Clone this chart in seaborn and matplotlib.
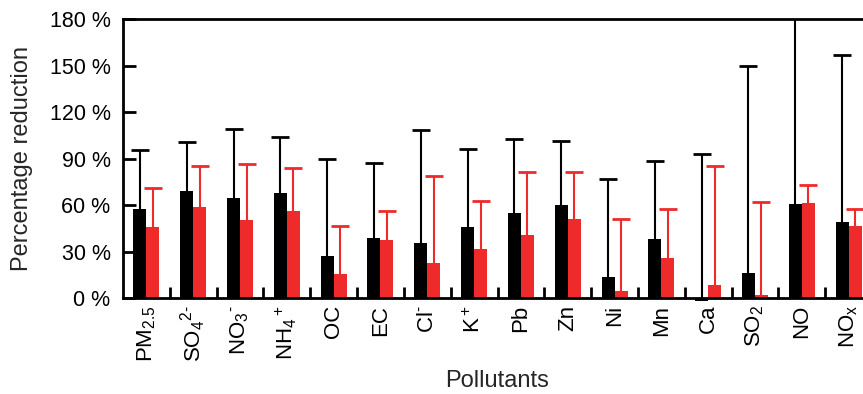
import numpy as np
import pandas as pd
import matplotlib
matplotlib.use("Agg")
import matplotlib.pyplot as plt
import seaborn as sns

categories = [r"PM$_{2.5}$", r"SO$_4$$^{2\text{-}}$", r"NO$_3$$^{\text{-}}$", r"NH$_4$$^+$", "OC", "EC",
              r"Cl$^{\text{-}}$", r"K$^+$", "Pb", "Zn", "Ni", "Mn", "Ca", r"SO$_2$", "NO", r"NO$_x$"]
series = ["A", "B"]
black_mean = [57.7, 69.0, 64.3, 67.9, 27.2, 38.6, 35.4, 45.8, 54.6, 60.2, 13.5, 37.9, -2.2, 16.1, 60.4, 49.3]
black_err = [38.1, 31.7, 45.0, 35.8, 62.2, 48.8, 73.2, 50.6, 48.1, 41.4, 63.2, 50.4, 94.8, 133.5, 150.0, 107.6]
red_mean = [45.6, 58.7, 50.3, 55.9, 15.6, 37.1, 22.3, 31.5, 40.5, 50.8, 4.5, 25.9, 8.4, 1.9, 61.5, 46.3]
red_err = [25.6, 26.6, 36.1, 28.1, 30.9, 19.0, 56.6, 31.3, 40.9, 30.2, 46.3, 31.3, 76.5, 59.8, 11.3, 11.4]
yticks = [0, 30, 60, 90, 120, 150, 180]

colors = ["#000000", "#EE2A2A"]

sns.set_theme(style="white")
plt.rcParams["font.family"] = ["Liberation Sans", "DejaVu Sans"]
plt.rcParams["mathtext.fontset"] = "custom"
plt.rcParams["mathtext.rm"] = "Liberation Sans"
plt.rcParams["mathtext.it"] = "Liberation Sans"
plt.rcParams["mathtext.bf"] = "Liberation Sans"

df = pd.DataFrame({
    "cat": list(range(len(categories))) * 2,
    "series": [series[0]] * len(categories) + [series[1]] * len(categories),
    "value": black_mean + red_mean,
})

fig = plt.figure(figsize=(8.63, 3.94), dpi=100)
ax = fig.add_axes([123 / 863, 96 / 394, 749 / 863, 279 / 394])

sns.barplot(data=df, x="cat", y="value", hue="series", hue_order=series,
            palette=colors, width=0.556, errorbar=None, saturation=1,
            legend=False, ax=ax, linewidth=0)

for p in ax.patches:
    p.set_clip_on(False)
    p.set_zorder(3)

xs = np.arange(len(categories))
off = 0.556 / 4
for means, errs, col, sh in [(black_mean, black_err, colors[0], -off), (red_mean, red_err, colors[1], off)]:
    _, caps, _ = ax.errorbar(xs + sh, means, yerr=[np.zeros(len(errs)), errs], fmt="none",
                             ecolor=col, elinewidth=1.5, capsize=6.5, capthick=2, zorder=2)
    caps[0].set_visible(False)

ax.set_xlim(-0.5, len(categories) - 0.5)
ax.set_ylim(0, 180)
ax.set_yticks(yticks)
ax.set_yticklabels([f"{v} %" for v in yticks], fontsize=15.5)
ax.set_xticks(xs)
ax.set_xticklabels(categories, rotation=90, fontsize=16)
ax.set_xticks(np.arange(0.5, len(categories) - 0.5, 1), minor=True)
ax.tick_params(axis="x", which="major", length=0, pad=5, colors="black")
ax.tick_params(axis="x", which="minor", direction="in", length=8, width=2, bottom=True, color="black")
ax.tick_params(axis="y", which="major", direction="in", length=9, width=2, pad=9, left=True, colors="black")

for s in ["left", "top", "bottom"]:
    ax.spines[s].set_visible(True)
    ax.spines[s].set_color("black")
    ax.spines[s].set_linewidth(2)
    ax.spines[s].set_zorder(4)
ax.spines["right"].set_visible(False)

ax.set_xlabel("Pollutants", fontsize=17, labelpad=6)
ax.set_ylabel("Percentage reduction", fontsize=17, labelpad=12)

fig.savefig("out.png", dpi=100)
